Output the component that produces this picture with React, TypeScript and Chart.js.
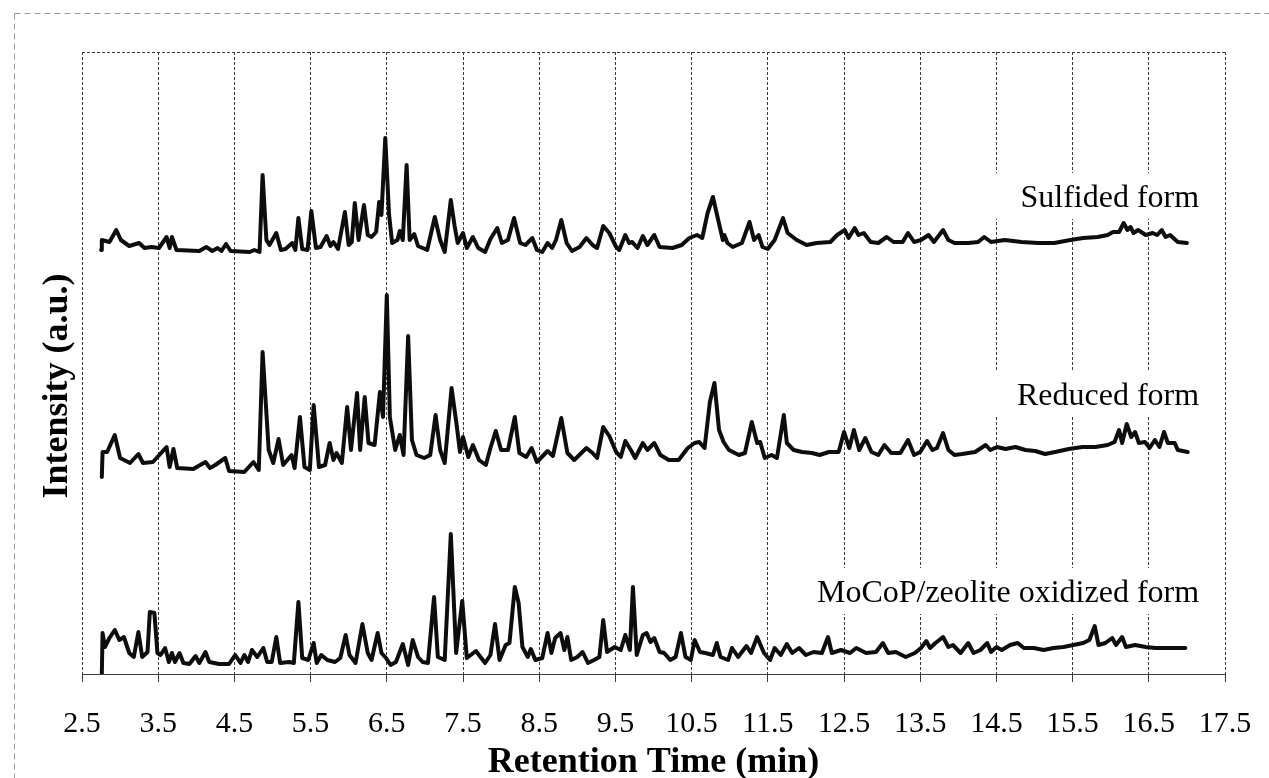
import { useEffect, useRef } from 'react';
import { Chart, registerables } from 'chart.js';

Chart.register(...registerables);

// ---- Data (retention time in min, intensity in a.u. above each trace's own baseline) ----
const X_TICKS = [2.5, 3.5, 4.5, 5.5, 6.5, 7.5, 8.5, 9.5, 10.5, 11.5, 12.5, 13.5, 14.5, 15.5, 16.5, 17.5];

const SERIES_NAMES = ['Sulfided form', 'Reduced form', 'MoCoP/zeolite oxidized form'];
// vertical stacking offsets of the three chromatograms (a.u.)
const SERIES_OFFSETS = [422, 196, 0];

const SULFIDED: [number, number][] = [
  [2.75, 2], [2.76, 12], [2.86, 10], [2.95, 22], [3.01, 12], [3.12, 6], [3.25, 9], [3.32, 4], [3.41, 5], [3.51, 4],
  [3.61, 15], [3.65, 4], [3.68, 15], [3.74, 2], [4.04, 1], [4.13, 5], [4.21, 1], [4.28, 4], [4.33, 1], [4.39, 8],
  [4.45, 1], [4.70, 0], [4.76, 2], [4.83, 0], [4.87, 77], [4.92, 12], [4.96, 7], [5.05, 19], [5.11, 2], [5.17, 3],
  [5.26, 9], [5.30, 2], [5.34, 34], [5.39, 3], [5.46, 2], [5.51, 41], [5.57, 4], [5.63, 5], [5.71, 16], [5.76, 6],
  [5.80, 10], [5.86, 3], [5.95, 40], [6.00, 7], [6.04, 10], [6.08, 49], [6.13, 12], [6.20, 47], [6.25, 17], [6.30, 15],
  [6.36, 20], [6.40, 50], [6.43, 37], [6.48, 114], [6.53, 37], [6.57, 9], [6.64, 12], [6.67, 21], [6.71, 12], [6.76, 87],
  [6.80, 12], [6.86, 18], [6.91, 6], [7.03, 2], [7.13, 35], [7.20, 12], [7.26, 0], [7.34, 52], [7.39, 26], [7.43, 9],
  [7.50, 19], [7.55, 4], [7.63, 15], [7.70, 4], [7.79, 0], [7.86, 13], [7.95, 24], [8.01, 9], [8.09, 12], [8.17, 34],
  [8.25, 9], [8.32, 7], [8.41, 14], [8.47, 2], [8.54, 0], [8.61, 9], [8.67, 4], [8.72, 12], [8.79, 32], [8.86, 9],
  [8.93, 1], [9.03, 5], [9.12, 14], [9.20, 7], [9.26, 4], [9.34, 26], [9.42, 19], [9.51, 5], [9.55, 2], [9.63, 17],
  [9.68, 9], [9.72, 10], [9.79, 4], [9.86, 16], [9.92, 7], [10.01, 17], [10.08, 5], [10.25, 4], [10.37, 7], [10.47, 14],
  [10.57, 17], [10.64, 14], [10.71, 39], [10.78, 55], [10.84, 35], [10.91, 12], [10.93, 17], [10.97, 9], [11.04, 5], [11.16, 9],
  [11.26, 30], [11.32, 12], [11.38, 17], [11.43, 5], [11.50, 3], [11.59, 12], [11.70, 34], [11.76, 19], [11.88, 12], [12.01, 7],
  [12.14, 9], [12.32, 10], [12.41, 17], [12.51, 22], [12.56, 14], [12.64, 24], [12.69, 17], [12.76, 19], [12.85, 10], [12.95, 9],
  [13.06, 15], [13.15, 10], [13.27, 10], [13.34, 19], [13.42, 10], [13.51, 12], [13.61, 17], [13.68, 10], [13.80, 22], [13.87, 12],
  [13.95, 9], [14.13, 9], [14.26, 10], [14.34, 15], [14.43, 10], [14.61, 12], [14.83, 10], [15.05, 9], [15.26, 9], [15.47, 12],
  [15.64, 14], [15.83, 15], [15.96, 17], [16.03, 20], [16.11, 20], [16.17, 29], [16.22, 22], [16.26, 25], [16.30, 19], [16.36, 22],
  [16.46, 17], [16.55, 19], [16.61, 17], [16.67, 22], [16.72, 15], [16.78, 17], [16.88, 10], [17.00, 9],
];

const REDUCED: [number, number][] = [
  [2.76, 1], [2.77, 26], [2.83, 26], [2.93, 43], [3.00, 20], [3.13, 15], [3.24, 24], [3.30, 15], [3.43, 16], [3.61, 31],
  [3.65, 11], [3.70, 29], [3.75, 10], [3.96, 9], [4.12, 16], [4.18, 10], [4.25, 13], [4.38, 20], [4.43, 7], [4.63, 6],
  [4.75, 16], [4.82, 8], [4.87, 126], [4.95, 28], [5.01, 15], [5.08, 39], [5.14, 13], [5.25, 23], [5.29, 10], [5.36, 61],
  [5.42, 11], [5.49, 8], [5.54, 73], [5.61, 11], [5.69, 13], [5.75, 35], [5.80, 18], [5.84, 25], [5.91, 15], [5.98, 71],
  [6.03, 28], [6.11, 85], [6.15, 28], [6.21, 81], [6.26, 35], [6.34, 33], [6.41, 86], [6.45, 61], [6.50, 183], [6.54, 61],
  [6.61, 28], [6.67, 43], [6.72, 23], [6.78, 142], [6.83, 38], [6.89, 23], [6.99, 20], [7.07, 23], [7.14, 63], [7.20, 28],
  [7.26, 15], [7.35, 90], [7.42, 51], [7.46, 26], [7.50, 41], [7.57, 21], [7.63, 33], [7.71, 18], [7.80, 13], [7.86, 30],
  [7.93, 47], [8.00, 28], [8.09, 28], [8.18, 61], [8.24, 25], [8.33, 21], [8.40, 30], [8.47, 16], [8.61, 27], [8.68, 22],
  [8.79, 60], [8.87, 25], [8.96, 18], [9.12, 30], [9.20, 25], [9.26, 20], [9.34, 51], [9.42, 42], [9.51, 26], [9.57, 21],
  [9.63, 37], [9.71, 27], [9.76, 20], [9.86, 35], [9.92, 28], [10.01, 35], [10.09, 23], [10.20, 18], [10.33, 18], [10.45, 30],
  [10.54, 35], [10.60, 36], [10.67, 30], [10.74, 76], [10.80, 95], [10.86, 48], [10.92, 36], [10.99, 28], [11.12, 23], [11.20, 25],
  [11.29, 56], [11.36, 35], [11.40, 36], [11.46, 20], [11.55, 23], [11.62, 20], [11.71, 63], [11.75, 35], [11.84, 28], [11.95, 26],
  [12.08, 25], [12.18, 23], [12.30, 26], [12.43, 26], [12.50, 46], [12.57, 30], [12.63, 48], [12.70, 28], [12.78, 40], [12.86, 26],
  [12.95, 23], [13.03, 33], [13.12, 25], [13.24, 25], [13.34, 38], [13.42, 23], [13.50, 26], [13.59, 37], [13.66, 28], [13.72, 30],
  [13.80, 45], [13.87, 28], [13.95, 23], [14.05, 24], [14.22, 26], [14.36, 33], [14.42, 28], [14.51, 31], [14.62, 29], [14.75, 31],
  [14.88, 28], [15.01, 27], [15.14, 24], [15.27, 26], [15.45, 29], [15.63, 31], [15.80, 31], [15.96, 33], [16.05, 36], [16.11, 48],
  [16.15, 35], [16.21, 54], [16.27, 41], [16.32, 46], [16.37, 35], [16.45, 36], [16.51, 30], [16.58, 38], [16.64, 31], [16.70, 46],
  [16.75, 35], [16.84, 35], [16.88, 28], [17.01, 26],
];

const OXIDIZED: [number, number][] = [
  [2.76, 0], [2.77, 41], [2.80, 27], [2.86, 36], [2.93, 44], [2.99, 34], [3.05, 37], [3.12, 21], [3.18, 17], [3.24, 42],
  [3.29, 17], [3.36, 22], [3.39, 62], [3.45, 61], [3.49, 21], [3.53, 19], [3.59, 26], [3.64, 12], [3.68, 21], [3.72, 12],
  [3.78, 21], [3.83, 11], [3.91, 10], [3.99, 18], [4.04, 11], [4.12, 22], [4.17, 12], [4.30, 10], [4.43, 10], [4.51, 19],
  [4.58, 11], [4.63, 19], [4.68, 12], [4.73, 24], [4.80, 17], [4.88, 26], [4.93, 12], [4.99, 12], [5.05, 37], [5.10, 11],
  [5.22, 12], [5.28, 11], [5.34, 72], [5.39, 16], [5.47, 14], [5.54, 31], [5.58, 11], [5.64, 19], [5.72, 14], [5.82, 12],
  [5.89, 16], [5.96, 39], [6.01, 19], [6.09, 11], [6.18, 50], [6.25, 21], [6.30, 14], [6.38, 41], [6.43, 21], [6.49, 16],
  [6.55, 9], [6.62, 12], [6.71, 30], [6.78, 9], [6.84, 34], [6.91, 17], [6.97, 12], [7.04, 11], [7.12, 77], [7.17, 17],
  [7.26, 14], [7.34, 140], [7.41, 21], [7.49, 73], [7.55, 16], [7.67, 23], [7.79, 11], [7.86, 19], [7.92, 50], [7.98, 14],
  [8.06, 29], [8.11, 31], [8.18, 87], [8.23, 71], [8.28, 27], [8.35, 17], [8.39, 25], [8.45, 14], [8.54, 16], [8.61, 41],
  [8.66, 21], [8.71, 36], [8.78, 41], [8.83, 24], [8.87, 37], [8.92, 14], [9.00, 17], [9.07, 22], [9.14, 11], [9.22, 14],
  [9.29, 17], [9.34, 54], [9.39, 22], [9.49, 27], [9.57, 24], [9.63, 39], [9.69, 24], [9.73, 87], [9.78, 19], [9.86, 39],
  [9.91, 41], [9.96, 32], [10.01, 36], [10.08, 22], [10.14, 21], [10.22, 14], [10.29, 17], [10.36, 41], [10.42, 17], [10.49, 14],
  [10.54, 34], [10.61, 22], [10.68, 21], [10.78, 19], [10.83, 31], [10.88, 17], [10.98, 14], [11.03, 26], [11.11, 17], [11.22, 28],
  [11.28, 21], [11.36, 37], [11.45, 21], [11.53, 14], [11.59, 26], [11.67, 19], [11.75, 30], [11.82, 21], [11.91, 26], [12.00, 19],
  [12.10, 22], [12.21, 21], [12.29, 37], [12.34, 21], [12.46, 24], [12.58, 21], [12.66, 26], [12.79, 21], [12.92, 22], [13.01, 31],
  [13.08, 21], [13.18, 22], [13.31, 17], [13.43, 21], [13.51, 26], [13.58, 33], [13.63, 26], [13.70, 31], [13.80, 37], [13.87, 27],
  [13.93, 29], [14.03, 21], [14.13, 31], [14.20, 21], [14.29, 24], [14.38, 31], [14.43, 22], [14.50, 27], [14.57, 24], [14.68, 29],
  [14.78, 31], [14.86, 26], [14.99, 26], [15.12, 24], [15.25, 26], [15.38, 27], [15.51, 29], [15.64, 31], [15.72, 34], [15.79, 48],
  [15.84, 29], [15.93, 31], [16.02, 36], [16.07, 29], [16.15, 37], [16.20, 27], [16.32, 29], [16.46, 27], [16.59, 26], [16.72, 26],
  [16.85, 26], [16.98, 26],
];

// label anchors (right edge time, baseline value on the stacked scale)
const LABEL_RIGHT_TIME = 17.16;
const LABEL_BASELINES = [467, 269, 72];

const Y_MAX = 622;
const SERIF = '"Liberation Serif", "Times New Roman", serif';
const GRID_COLOR = '#3c3c3c';
const LINE_COLOR = '#0d0d0d';

export default function App() {
  const canvasRef = useRef<HTMLCanvasElement | null>(null);

  useEffect(() => {
    document.body.style.margin = '0';
    const canvas = canvasRef.current;
    if (!canvas) return;

    const traces = [SULFIDED, REDUCED, OXIDIZED];

    const decor = {
      id: 'decor',
      beforeDatasetsDraw(chart: any) {
        const { ctx, chartArea: a, scales } = chart;
        ctx.save();
        // top frame line
        ctx.strokeStyle = GRID_COLOR;
        ctx.lineWidth = 1;
        ctx.setLineDash([3, 2]);
        ctx.beginPath();
        ctx.moveTo(a.left, a.top + 0.5);
        ctx.lineTo(a.right, a.top + 0.5);
        ctx.stroke();
        ctx.setLineDash([]);
        // series labels with white boxes
        ctx.font = `32px ${SERIF}`;
        ctx.textAlign = 'right';
        ctx.textBaseline = 'alphabetic';
        const xr = scales.x.getPixelForValue(LABEL_RIGHT_TIME);
        SERIES_NAMES.forEach((name, i) => {
          const yb = scales.y.getPixelForValue(LABEL_BASELINES[i]);
          const w = ctx.measureText(name).width;
          ctx.fillStyle = '#ffffff';
          ctx.fillRect(xr - w - 30, yb - 34, w + 36, 46);
          ctx.fillStyle = '#000000';
          ctx.fillText(name, xr, yb);
        });
        ctx.restore();
      },
      afterDraw(chart: any) {
        const { ctx, chartArea: a } = chart;
        ctx.save();
        // scan frame
        ctx.strokeStyle = '#9a9a9a';
        ctx.lineWidth = 1;
        ctx.setLineDash([6, 4]);
        ctx.beginPath();
        ctx.moveTo(14.5, 13.5);
        ctx.lineTo(chart.width, 13.5);
        ctx.moveTo(14.5, 13.5);
        ctx.lineTo(14.5, chart.height);
        ctx.stroke();
        ctx.setLineDash([]);
        ctx.fillStyle = '#000000';
        // x title
        ctx.font = `bold 36px ${SERIF}`;
        ctx.textAlign = 'center';
        ctx.textBaseline = 'alphabetic';
        ctx.fillText('Retention Time (min)', (a.left + a.right) / 2, 772);
        // y title
        ctx.translate(67, 386);
        ctx.rotate(-Math.PI / 2);
        ctx.fillText('Intensity (a.u.)', 0, 0);
        ctx.restore();
      },
    };

    const chart = new Chart(canvas, {
      type: 'line',
      data: {
        datasets: traces.map((tr, i) => ({
          label: SERIES_NAMES[i],
          data: tr.map(([t, v]) => ({ x: t, y: v + SERIES_OFFSETS[i] })),
          borderColor: LINE_COLOR,
          borderWidth: 4,
          borderJoinStyle: 'round' as const,
          borderCapStyle: 'round' as const,
          pointRadius: 0,
          tension: 0,
          fill: false,
        })),
      },
      options: {
        animation: false,
        responsive: false,
        maintainAspectRatio: false,
        layout: { padding: { left: 82, right: 44, top: 52, bottom: 0 } },
        plugins: {
          legend: { display: false },
          tooltip: { enabled: false },
        },
        scales: {
          x: {
            type: 'linear',
            min: 2.5,
            max: 17.5,
            afterBuildTicks: (scale: any) => {
              scale.ticks = X_TICKS.map((v) => ({ value: v }));
            },
            afterFit: (scale: any) => {
              scale.height = 104;
              scale.paddingRight = 0;
              scale.paddingLeft = 0;
            },
            grid: { color: GRID_COLOR, lineWidth: 1, tickLength: 8, drawTicks: true },
            border: { color: GRID_COLOR, width: 1, dash: [3, 2] },
            ticks: {
              autoSkip: false,
              maxRotation: 0,
              minRotation: 0,
              padding: 16,
              color: '#000000',
              font: { family: SERIF, size: 30, lineHeight: 1.75 },
              callback: (v: any) => Number(v).toFixed(1),
            },
          },
          y: { display: false, min: 0, max: Y_MAX },
        },
      },
      plugins: [decor],
    });

    return () => chart.destroy();
  }, []);

  return (
    <div style={{ width: 1269, height: 778, background: '#ffffff' }}>
      <canvas ref={canvasRef} width={1269} height={778} style={{ display: 'block' }} />
    </div>
  );
}
